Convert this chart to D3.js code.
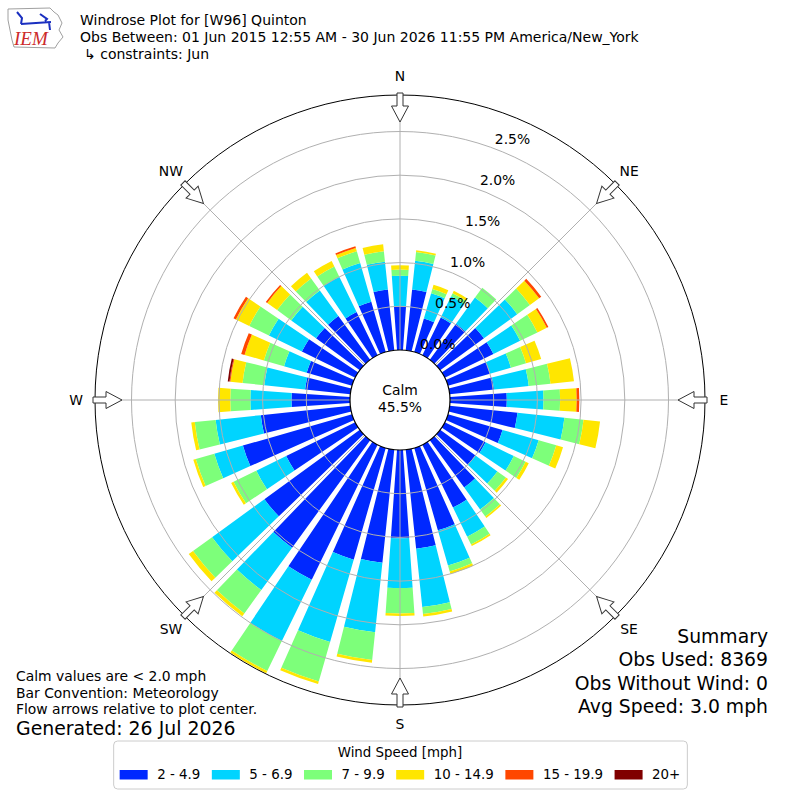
<!DOCTYPE html>
<html>
<head>
<meta charset="utf-8">
<script src="https://cdn.jsdelivr.net/npm/d3@7"></script>
<style>
  body { margin: 0; background: #fff; }
  text { font-family: "DejaVu Sans", sans-serif; fill: #000; }
</style>
</head>
<body>
<div id="chart"></div>
<script>
// wind directions (deg, meteorological) and speed bins
const directions = [0, 10, 20, 30, 40, 50, 60, 70, 80, 90, 100, 110, 120, 130, 140, 150, 160, 170,
                    180, 190, 200, 210, 220, 230, 240, 250, 260, 270, 280, 290, 300, 310, 320, 330, 340, 350];
const speedBins = ["2 - 4.9", "5 - 6.9", "7 - 9.9", "10 - 14.9", "15 - 19.9", "20+"];
const binColors = ["#0028ff", "#00d4ff", "#7dff7a", "#ffe600", "#ff4700", "#800000"];

// frequency (%) per direction for each speed bin
const freq2to5 = [0.50, 0.70, 0.40, 0.48, 0.51, 0.62, 0.62, 0.50, 0.51, 0.65, 0.78, 0.65, 0.52, 0.50, 0.67, 0.80, 0.98, 1.14,
                  1.01, 1.30, 1.33, 1.72, 1.52, 1.35, 0.88, 1.30, 1.03, 0.67, 0.52, 0.54, 0.68, 0.62, 0.62, 0.55, 0.60, 0.70];
const freq5to7 = [0.35, 0.33, 0.30, 0.27, 0.37, 0.47, 0.34, 0.25, 0.40, 0.42, 0.54, 0.43, 0.36, 0.31, 0.31, 0.37, 0.42, 0.67,
                  0.57, 0.80, 0.98, 0.78, 0.60, 0.74, 0.38, 0.34, 0.52, 0.47, 0.47, 0.27, 0.42, 0.35, 0.36, 0.45, 0.46, 0.32];
const freq7to10 = [0.07, 0.10, 0.05, 0.04, 0.14, 0.18, 0.22, 0.18, 0.25, 0.19, 0.22, 0.21, 0.15, 0.12, 0.10, 0.10, 0.07, 0.08,
                   0.29, 0.32, 0.47, 0.38, 0.33, 0.27, 0.29, 0.22, 0.24, 0.23, 0.25, 0.24, 0.25, 0.20, 0.17, 0.13, 0.14, 0.12];
const freq10to15 = [0.05, 0.02, 0.05, 0.03, 0.00, 0.13, 0.12, 0.18, 0.27, 0.19, 0.19, 0.08, 0.04, 0.03, 0.02, 0.02, 0.03, 0.03,
                    0.03, 0.03, 0.03, 0.03, 0.04, 0.06, 0.03, 0.03, 0.04, 0.14, 0.14, 0.23, 0.17, 0.14, 0.08, 0.07, 0.04, 0.08];
const freq15to20 = [0, 0, 0, 0, 0, 0.03, 0.02, 0, 0, 0.03, 0, 0, 0, 0, 0, 0, 0, 0,
                    0, 0, 0, 0, 0, 0, 0, 0, 0, 0, 0.01, 0.04, 0.03, 0.02, 0, 0, 0.02, 0];
const freq20up = [0, 0, 0, 0, 0, 0, 0, 0, 0, 0, 0, 0, 0, 0, 0, 0, 0, 0,
                  0, 0, 0, 0, 0, 0, 0, 0, 0, 0, 0.02, 0, 0, 0, 0, 0, 0, 0];

const radialTicks = [0, 0.5, 1.0, 1.5, 2.0, 2.5];
const compassNames = ["N", "NE", "E", "SE", "S", "SW", "W", "NW"];
const compassAngles = [0, 45, 90, 135, 180, 225, 270, 315];
const calmPct = 45.5;

const titleLines = ["Windrose Plot for [W96] Quinton",
                    "Obs Between: 01 Jun 2015 12:55 AM - 30 Jun 2026 11:55 PM America/New_York",
                    "\u21b3 constraints: Jun"];
const noteLines = ["Calm values are < 2.0 mph", "Bar Convention: Meteorology", "Flow arrows relative to plot center."];
const generatedText = "Generated: 26 Jul 2026";
const summaryLines = ["Summary", "Obs Used: 8369", "Obs Without Wind: 0", "Avg Speed: 3.0 mph"];

const ctx = {
    W: 800,
    H: 800,
    CX: 400,
    CY: 400,
    CALM_R: 50,
    OUTER_R: 305,
};

function createViz() {
    const svg = d3.select("#chart")
        .append("svg")
        .attr("width", ctx.W)
        .attr("height", ctx.H);

    drawHeader(svg);
    drawRose(svg);
    drawNotes(svg);
    drawLegend(svg);
}

function drawHeader(svg) {
    // small IEM logo
    const logo = svg.append("g");
    logo.append("path")
        .attr("d", "M8,9 L50,8 L54,12 L58,15 L62,23 L59,30 L63,37 L58,43 L55,48 L14,47 L12,40 L10,30 L8,20 Z")
        .attr("fill", "none")
        .attr("stroke", "#a0a0a0")
        .attr("stroke-width", 1);
    logo.append("path")
        .attr("d", "M21,24 L51,22 M17,12 L22,18 L21,24 M40,14 L47,19 L45,21 M49,22 L50,30")
        .attr("fill", "none")
        .attr("stroke", "#1a2fc0")
        .attr("stroke-width", 2);
    logo.append("text")
        .attr("x", 14).attr("y", 45)
        .style("font-family", "'Liberation Serif', serif")
        .style("font-style", "italic")
        .style("font-size", "19px")
        .style("fill", "#cc2a2a")
        .text("IEM");

    svg.selectAll(".title")
        .data(titleLines)
        .enter()
        .append("text")
        .attr("class", "title")
        .attr("x", (d, i) => i === 2 ? 84 : 80)
        .attr("y", (d, i) => 25 + i * 17)
        .style("font-size", "14px")
        .text(d => d);
}

function drawRose(svg) {
    const g = svg.append("g").attr("transform", `translate(${ctx.CX},${ctx.CY})`);

    const rScale = d3.scaleLinear()
        .domain([0, 2.5])
        .range([ctx.CALM_R, 268.5]);

    const keys = speedBins;
    const table = directions.map((dir, i) => ({
        dir: dir,
        [keys[0]]: freq2to5[i],
        [keys[1]]: freq5to7[i],
        [keys[2]]: freq7to10[i],
        [keys[3]]: freq10to15[i],
        [keys[4]]: freq15to20[i],
        [keys[5]]: freq20up[i],
    }));
    const series = d3.stack().keys(keys)(table);
    const color = d3.scaleOrdinal().domain(keys).range(binColors);

    const halfOpen = 4 * Math.PI / 180; // 80% of a 10 degree sector
    const arc = d3.arc()
        .innerRadius(d => rScale(d[0]))
        .outerRadius(d => rScale(d[1]))
        .startAngle(d => d.data.dir * Math.PI / 180 - halfOpen)
        .endAngle(d => d.data.dir * Math.PI / 180 + halfOpen)
        .padRadius(50)
        .padAngle(1 / 50);

    const bars = g.append("g").attr("class", "bars");
    series.forEach(s => {
        bars.append("g")
            .attr("fill", color(s.key))
            .selectAll("path")
            .data(s.filter(d => d[1] - d[0] > 0))
            .enter()
            .append("path")
            .attr("d", arc);
    });

    // grid circles
    g.append("g").selectAll("circle")
        .data(radialTicks.slice(1))
        .enter()
        .append("circle")
        .attr("r", d => rScale(d))
        .attr("fill", "none")
        .attr("stroke", "#b0b0b0")
        .attr("stroke-width", 1);

    // radial grid lines
    g.append("g").selectAll("line")
        .data(compassAngles)
        .enter()
        .append("line")
        .attr("x1", d => ctx.CALM_R * Math.sin(d * Math.PI / 180))
        .attr("y1", d => -ctx.CALM_R * Math.cos(d * Math.PI / 180))
        .attr("x2", d => ctx.OUTER_R * Math.sin(d * Math.PI / 180))
        .attr("y2", d => -ctx.OUTER_R * Math.cos(d * Math.PI / 180))
        .attr("stroke", "#b0b0b0")
        .attr("stroke-width", 1);

    // outer frame
    g.append("circle")
        .attr("r", ctx.OUTER_R)
        .attr("fill", "none")
        .attr("stroke", "#000")
        .attr("stroke-width", 1);

    // radial tick labels
    const labAng = 20 * Math.PI / 180;
    g.append("g").selectAll("text")
        .data(radialTicks)
        .enter()
        .append("text")
        .attr("x", d => rScale(d) * Math.sin(labAng) + 3)
        .attr("y", d => -rScale(d) * Math.cos(labAng) - 4)
        .style("font-size", "13.9px")
        .text(d => d.toFixed(1) + "%");

    // flow arrows
    const arrowPts = [[-3, -307], [3, -307], [3, -294], [8.5, -294], [0, -278], [-8.5, -294], [-3, -294]];
    g.append("g").selectAll("polygon")
        .data(compassAngles)
        .enter()
        .append("polygon")
        .attr("points", arrowPts.map(p => p.join(",")).join(" "))
        .attr("transform", d => `rotate(${d})`)
        .attr("fill", "#fff")
        .attr("stroke", "#333")
        .attr("stroke-width", 1);

    // compass labels
    g.append("g").selectAll("text")
        .data(compassNames)
        .enter()
        .append("text")
        .attr("x", (d, i) => 324 * Math.sin(compassAngles[i] * Math.PI / 180))
        .attr("y", (d, i) => -324 * Math.cos(compassAngles[i] * Math.PI / 180))
        .attr("text-anchor", "middle")
        .attr("dominant-baseline", "central")
        .style("font-size", "13.9px")
        .text(d => d);

    // calm circle
    g.append("circle")
        .attr("r", ctx.CALM_R)
        .attr("fill", "#fff")
        .attr("stroke", "#000")
        .attr("stroke-width", 1.2);
    g.append("text")
        .attr("y", -5)
        .attr("text-anchor", "middle")
        .style("font-size", "13.9px")
        .text("Calm");
    g.append("text")
        .attr("y", 12)
        .attr("text-anchor", "middle")
        .style("font-size", "13.9px")
        .text(calmPct.toFixed(1) + "%");
}

function drawNotes(svg) {
    svg.selectAll(".note")
        .data(noteLines)
        .enter()
        .append("text")
        .attr("class", "note")
        .attr("x", 16)
        .attr("y", (d, i) => 681 + i * 16.7)
        .style("font-size", "13.9px")
        .text(d => d);

    svg.append("text")
        .attr("x", 16)
        .attr("y", 735)
        .style("font-size", "18.9px")
        .text(generatedText);

    svg.selectAll(".summary")
        .data(summaryLines)
        .enter()
        .append("text")
        .attr("class", "summary")
        .attr("x", 768)
        .attr("y", (d, i) => 643 + i * 23.3)
        .attr("text-anchor", "end")
        .style("font-size", "18.8px")
        .text(d => d);
}

function drawLegend(svg) {
    const lg = svg.append("g");
    const box = lg.append("rect")
        .attr("y", 741)
        .attr("height", 48)
        .attr("rx", 4)
        .attr("fill", "#fff")
        .attr("stroke", "#cccccc")
        .attr("stroke-width", 1);

    lg.append("text")
        .attr("x", 400)
        .attr("y", 757)
        .attr("text-anchor", "middle")
        .style("font-size", "13.4px")
        .text("Wind Speed [mph]");

    // lay out entries sequentially, then center them
    const entries = lg.append("g");
    let x = 0;
    speedBins.forEach((name, i) => {
        entries.append("rect")
            .attr("x", x).attr("y", 770)
            .attr("width", 28).attr("height", 9.5)
            .attr("fill", binColors[i]);
        const t = entries.append("text")
            .attr("x", x + 37.5).attr("y", 779)
            .style("font-size", "13.4px")
            .text(name);
        x += 37.5 + t.node().getComputedTextLength() + (i < speedBins.length - 1 ? 11.5 : 0);
    });
    const x0 = 400 - x / 2;
    entries.attr("transform", `translate(${x0},0)`);
    box.attr("x", x0 - 6).attr("width", x + 13);
}

createViz();
</script>
</body>
</html>
